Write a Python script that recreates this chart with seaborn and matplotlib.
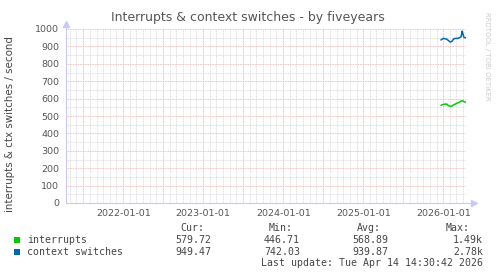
import matplotlib
matplotlib.use("Agg")
import matplotlib.pyplot as plt
import matplotlib.dates as mdates
from matplotlib.ticker import MultipleLocator, FuncFormatter
import seaborn as sns
import pandas as pd

# ---- data ----
dates = ["2025-12-21", "2026-01-01", "2026-01-16", "2026-01-23", "2026-02-02",
         "2026-02-10", "2026-02-18", "2026-02-27", "2026-03-08", "2026-03-16",
         "2026-03-23", "2026-03-28", "2026-04-01", "2026-04-05", "2026-04-10",
         "2026-04-13"]
interrupts = [561, 567, 569, 561, 556, 557, 565, 570, 575, 580, 585, 588, 586, 582, 580, 580]
context_switches = [937, 946, 942, 935, 925, 930, 944, 946, 946, 950, 955, 988, 970, 952, 950, 949]
series_names = ["interrupts", "context switches"]
series_colors = ["#00CC00", "#0066B3"]
stat_headers = ["Cur:", "Min:", "Avg:", "Max:"]
stats = {
    "interrupts": ["579.72", "446.71", "568.89", "1.49k"],
    "context switches": ["949.47", "742.03", "939.87", "2.78k"],
}
title = "Interrupts & context switches - by fiveyears"
ylabel = "interrupts & ctx switches / second"
last_update = "Last update: Tue Apr 14 14:30:42 2026"
x_start = "2021-04-14 14:30"
x_end = "2026-04-14 14:30"

df = pd.DataFrame({
    "date": pd.to_datetime(dates * 2),
    "value": interrupts + context_switches,
    "series": [series_names[0]] * len(dates) + [series_names[1]] * len(dates),
})

sns.set_theme(style="white")
plt.rcParams["font.family"] = ["DejaVu Sans"]

W, H = 497, 276
fig = plt.figure(figsize=(W / 100, H / 100), dpi=100)
fig.patch.set_facecolor("white")

def fx(x):
    return x / W

def fy(y):
    return 1 - y / H

ax = fig.add_axes([66 / W, (H - 203) / H, 400 / W, 174 / H])
ax.set_facecolor("white")

sns.lineplot(data=df, x="date", y="value", hue="series", palette=series_colors,
             hue_order=series_names, linewidth=1.1, legend=False, ax=ax)

ax.set_xlim(pd.Timestamp(x_start), pd.Timestamp(x_end))
ax.set_ylim(0, 1000)
ax.set_xlabel("")
ax.set_ylabel("")

for s in ax.spines.values():
    s.set_visible(False)

ax.yaxis.set_major_locator(MultipleLocator(100))
ax.yaxis.set_minor_locator(MultipleLocator(50))
ax.xaxis.set_major_locator(mdates.MonthLocator(bymonth=[1, 7]))
ax.xaxis.set_minor_locator(mdates.MonthLocator())
ax.xaxis.set_major_formatter(FuncFormatter(
    lambda v, p: mdates.num2date(v).strftime("%Y-%m-%d") if mdates.num2date(v).month == 1 else ""))

ax.grid(which="minor", color="#d4d4d4", linestyle=(0, (1, 1)), linewidth=0.6)
ax.grid(which="major", color="#f0a8a8", linestyle=(0, (1, 1)), linewidth=0.6)
ax.set_axisbelow(True)

ax.tick_params(axis="both", which="both", length=2, direction="inout", width=0.6)
ax.tick_params(axis="both", which="major", color="#f08080", labelcolor="#555555", labelsize=6.8)
ax.tick_params(axis="both", which="minor", color="#bbbbbb")
ax.tick_params(axis="y", which="major", pad=4)
ax.tick_params(axis="x", which="major", pad=3)

# axis lines with arrows
axis_color = "#c8c8ff"
ax.plot([0, 1.02], [0, 0], color=axis_color, lw=0.8, transform=ax.transAxes, clip_on=False)
ax.plot([0, 0], [0, 1.03], color=axis_color, lw=0.8, transform=ax.transAxes, clip_on=False)
ax.plot([1.02], [0], marker=">", ms=4, color=axis_color, transform=ax.transAxes, clip_on=False)
ax.plot([0], [1.03], marker="^", ms=4, color=axis_color, transform=ax.transAxes, clip_on=False)

# title, y label, watermark
fig.text(fx(248), fy(18), title, ha="center", va="center", fontsize=9.0, color="#555555")
fig.text(fx(10), fy(124), ylabel, ha="center", va="center", rotation=90, fontsize=7.4, color="#444444")
fig.text(fx(487), fy(56), "RRDTOOL / TOBI OETIKER", ha="center", va="center", rotation=270,
         fontsize=5.0, color="#cccccc")

# legend
mono = dict(family="DejaVu Sans Mono", fontsize=7.1, color="#444444")
head_x = [204, 293, 381, 470]
val_x = [211, 300, 388, 483]
for h, x in zip(stat_headers, head_x):
    fig.text(fx(x), fy(228), h, ha="right", va="center", **mono)
for i, (name, color) in enumerate(zip(series_names, series_colors)):
    y = 240 + i * 11.7
    fig.patches.append(plt.Rectangle((fx(14), fy(y + 3)), 6 / W, 6 / H, transform=fig.transFigure,
                                     facecolor=color, edgecolor="none"))
    fig.text(fx(27), fy(y), name, ha="left", va="center", **mono)
    for v, x in zip(stats[name], val_x):
        fig.text(fx(x), fy(y), v, ha="right", va="center", **mono)
fig.text(fx(483), fy(263.5), last_update, ha="right", va="center", **mono)

fig.savefig("out.png", dpi=100, facecolor="white")
